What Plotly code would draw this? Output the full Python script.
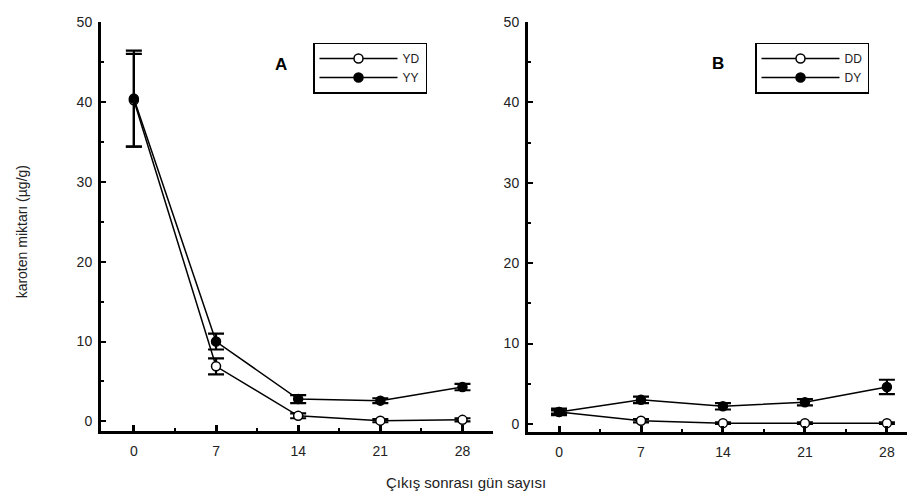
import plotly.graph_objects as go

days = [0, 7, 14, 21, 28]
x_tick_labels = ["0", "7", "14", "21", "28"]
y_tick_vals = [0, 10, 20, 30, 40, 50]

# Panel A
yd_vals = [40.2, 6.9, 0.7, 0.1, 0.2]
yd_err = [5.8, 1.0, 0.3, 0.2, 0.2]
yy_vals = [40.4, 10.0, 2.8, 2.6, 4.3]
yy_err = [6.0, 1.0, 0.5, 0.3, 0.4]

# Panel B
dd_vals = [1.5, 0.4, 0.1, 0.1, 0.1]
dd_err = [0.2, 0.2, 0.1, 0.1, 0.1]
dy_vals = [1.5, 3.0, 2.2, 2.7, 4.6]
dy_err = [0.4, 0.4, 0.4, 0.4, 0.9]

FONT = "Liberation Sans, Arial, sans-serif"
INK = "black"
TXT = "#222222"

fig = go.Figure()

def add_series(x, y, err, name, filled, xa, ya, legend):
    fig.add_trace(go.Scatter(
        x=x, y=y, name=name, mode="lines+markers",
        xaxis=xa, yaxis=ya, legend=legend,
        line=dict(color=INK, width=1.5),
        marker=dict(symbol="circle", size=9,
                    color=INK if filled else "white",
                    line=dict(color=INK, width=1.5)),
        error_y=dict(type="data", array=err, visible=True,
                     color=INK, thickness=2.2, width=8),
    ))

add_series(days, yd_vals, yd_err, "YD", False, "x", "y", "legend")
add_series(days, yy_vals, yy_err, "YY", True, "x", "y", "legend")
add_series(days, dd_vals, dd_err, "DD", False, "x2", "y2", "legend2")
add_series(days, dy_vals, dy_err, "DY", True, "x2", "y2", "legend2")

# the page body has an 8px margin
OFF = 8
W, H = 915 - OFF, 500 - 2 * OFF

def px(x):
    return (x - OFF) / W

def py(y):
    return (H - (y - OFF)) / H

xcommon = dict(
    tickmode="array", tickvals=days, ticktext=x_tick_labels,
    showline=True, linewidth=3, linecolor=INK, mirror=False,
    ticks="inside", ticklen=6, tickwidth=3, tickcolor=INK,
    ticklabelstandoff=5,
    minor=dict(tickvals=[3.5, 10.5, 17.5, 24.5], ticks="inside", ticklen=3, tickwidth=2, tickcolor=INK),
    showgrid=False, zeroline=False,
    tickfont=dict(family=FONT, size=14, color=TXT),
)
ycommon = dict(
    tickmode="array", tickvals=y_tick_vals,
    showline=True, linewidth=3, linecolor=INK, mirror=False,
    ticks="inside", ticklen=5, tickwidth=2, tickcolor=INK,
    ticklabelstandoff=3, ticklabeloverflow="allow",
    minor=dict(tickvals=[5, 15, 25, 35, 45], ticks="inside", ticklen=3, tickwidth=1.5, tickcolor=INK),
    showgrid=False, zeroline=False,
    tickfont=dict(family=FONT, size=14, color=TXT),
)

legend_style = dict(xanchor="left", yanchor="top",
                    bordercolor=INK, borderwidth=1.5, bgcolor="white",
                    font=dict(family=FONT, size=12, color=TXT),
                    itemwidth=78, tracegroupgap=0)

# heavy axis spines (reinforce the axis lines at the same outward position)
def spines(xr, yr, xlen_px, ylen_px):
    return [
        dict(type="line", xref=f"{xr} domain", yref=f"{yr} domain",
             xsizemode="pixel", xanchor=0, x0=-1.5, x1=-1.5,
             y0=-3.0 / ylen_px, y1=1, line=dict(color=INK, width=3), layer="above"),
        dict(type="line", xref=f"{xr} domain", yref=f"{yr} domain",
             ysizemode="pixel", yanchor=0, y0=-1.5, y1=-1.5,
             x0=-3.0 / xlen_px, x1=1, line=dict(color=INK, width=3), layer="above"),
    ]

fig.update_layout(
    width=W, height=H,
    margin=dict(l=0, r=0, t=0, b=0),
    paper_bgcolor="white", plot_bgcolor="white",
    font=dict(family=FONT, color=INK),
    xaxis=dict(domain=[px(101), px(493)], range=[-2.8, 30.6], anchor="y", **xcommon),
    yaxis=dict(domain=[py(430), py(14)], range=[-1.2, 50], anchor="x", **ycommon),
    xaxis2=dict(domain=[px(528), 1.0], range=[-2.65, 30.4], anchor="y2", **xcommon),
    yaxis2=dict(domain=[py(431), py(14)], range=[-1.0, 50], anchor="x2", **ycommon),
    legend=dict(x=px(313), y=py(35), **legend_style),
    legend2=dict(x=px(755), y=py(35), **legend_style),
    showlegend=True,
    shapes=spines("x", "y", 392, 416) + spines("x2", "y2", 387, 417),
    annotations=[
        dict(text="<b>A</b>", x=px(281), y=py(57), xref="paper", yref="paper",
             xanchor="center", yanchor="middle",
             showarrow=False, font=dict(family=FONT, size=17, color=INK)),
        dict(text="<b>B</b>", x=px(718), y=py(56), xref="paper", yref="paper",
             xanchor="center", yanchor="middle",
             showarrow=False, font=dict(family=FONT, size=17, color=INK)),
        dict(text="karoten miktarı (µg/g)", x=px(22), y=py(228), xref="paper", yref="paper",
             xanchor="center", yanchor="middle",
             showarrow=False, textangle=-90, font=dict(family=FONT, size=14, color=TXT)),
        dict(text="Çıkış sonrası gün sayısı", x=px(466), y=py(482), xref="paper", yref="paper",
             xanchor="center", yanchor="middle",
             showarrow=False, font=dict(family=FONT, size=15, color=TXT)),
    ],
)

fig.write_html("out.html")
